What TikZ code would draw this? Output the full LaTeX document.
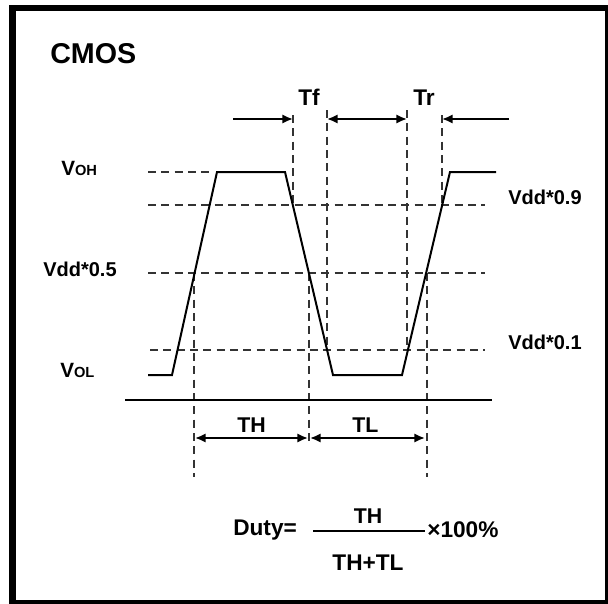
\documentclass[tikz,border=0pt]{standalone}
\usepackage{fontspec}
\setmainfont{Liberation Sans}
\usetikzlibrary{arrows.meta}
\tikzset{
  lbl/.style={inner sep=0pt, anchor=base west, font=\bfseries\fontsize{15}{15}\selectfont},
  wave/.style={line width=1.5pt},
  guide/.style={line width=1pt, black!80, dash pattern=on 6pt off 4pt},
  dim/.style={line width=1.5pt, {Latex[length=8pt,width=7pt]}-{Latex[length=8pt,width=7pt]}},
  dimto/.style={line width=1.5pt, -{Latex[length=8pt,width=7pt]}}
}
\newcommand{\levlbl}[2]{{\fontsize{15.5}{15.5}\selectfont #1}{\fontsize{11}{11}\selectfont #2}}

\begin{document}
\begin{tikzpicture}[x=0.75pt,y=-0.75pt]
\useasboundingbox (0,0) rectangle (608,604);
\draw[line width=5pt] (12.5,604) -- (12.5,8) -- (608,8);
\draw[line width=2.5pt] (606.5,8) -- (606.5,602) -- (12.5,602);

\node[lbl, font=\bfseries\fontsize{21.5}{21.5}\selectfont] (cmos) at (50,63) {CMOS};
\node[lbl] (voh) at (61,175) {\levlbl{V}{OH}};
\node[lbl] (vol) at (60,377) {\levlbl{V}{OL}};
\node[lbl] (v5) at (43,276) {Vdd*0.5};
\node[lbl] (v9) at (508,204) {Vdd*0.9};
\node[lbl] (v1) at (508,349) {Vdd*0.1};
\node[lbl, font=\bfseries\fontsize{17}{17}\selectfont] (tf) at (298,105) {Tf};
\node[lbl, font=\bfseries\fontsize{17}{17}\selectfont] (tr) at (413,105) {Tr};
\node[lbl, font=\bfseries\fontsize{16}{16}\selectfont] (th) at (237,432) {TH};
\node[lbl, font=\bfseries\fontsize{16}{16}\selectfont] (tl) at (352,432) {TL};

% levels
\draw[guide] (148,172) -- (210,172);
\draw[guide] (148,205) -- (485,205);
\draw[guide] (148,273) -- (485,273);
\draw[guide] (150,350) -- (485,350);

% edges
\draw[guide] (293,115) -- (293,205);
\draw[guide] (327,110) -- (327,350);
\draw[guide] (407,110) -- (407,350);
\draw[guide] (442,115) -- (442,205);
\draw[guide] (194,273) -- (194,477);
\draw[guide] (309,273) -- (309,442);
\draw[guide] (427,273) -- (427,477);

\draw[wave] (148,375) -- (172,375) -- (217,172) -- (285,172) -- (333,375)
  -- (402,375) -- (450,172) -- (496,172);
\draw[line width=1.1pt] (125,400) -- (492,400);

\coordinate (fa) at (233,119);
\coordinate (fb) at (293,119);
\coordinate (ra) at (327,119);
\coordinate (rb) at (407,119);
\coordinate (rc) at (442,119);
\coordinate (rd) at (509,119);
\draw[dimto] (fa) -- (fb);
\draw[dim] (ra) -- (rb);
\draw[dimto] (rd) -- (rc);

\coordinate (ha) at (195,438);
\coordinate (hb) at (308,438);
\coordinate (la) at (310,438);
\coordinate (lb) at (425,438);
\draw[dim] (ha) -- (hb);
\draw[dim] (la) -- (lb);

\node[lbl, font=\bfseries\fontsize{17}{17}\selectfont] (duty) at (233,535) {Duty=};
\node[inner sep=0pt, anchor=base, font=\bfseries\fontsize{16}{16}\selectfont] (num) at (368,523) {TH};
\node[inner sep=0pt, anchor=base, font=\bfseries\fontsize{17}{17}\selectfont] (den) at (368,570) {TH+TL};
\node[lbl, font=\bfseries\fontsize{17}{17}\selectfont] (pct) at (427,537) {×100\%};
\coordinate (fl) at (313,531);
\coordinate (fr) at (425,531);
\draw[line width=1.1pt] (fl) -- (fr);
\end{tikzpicture}
\end{document}
